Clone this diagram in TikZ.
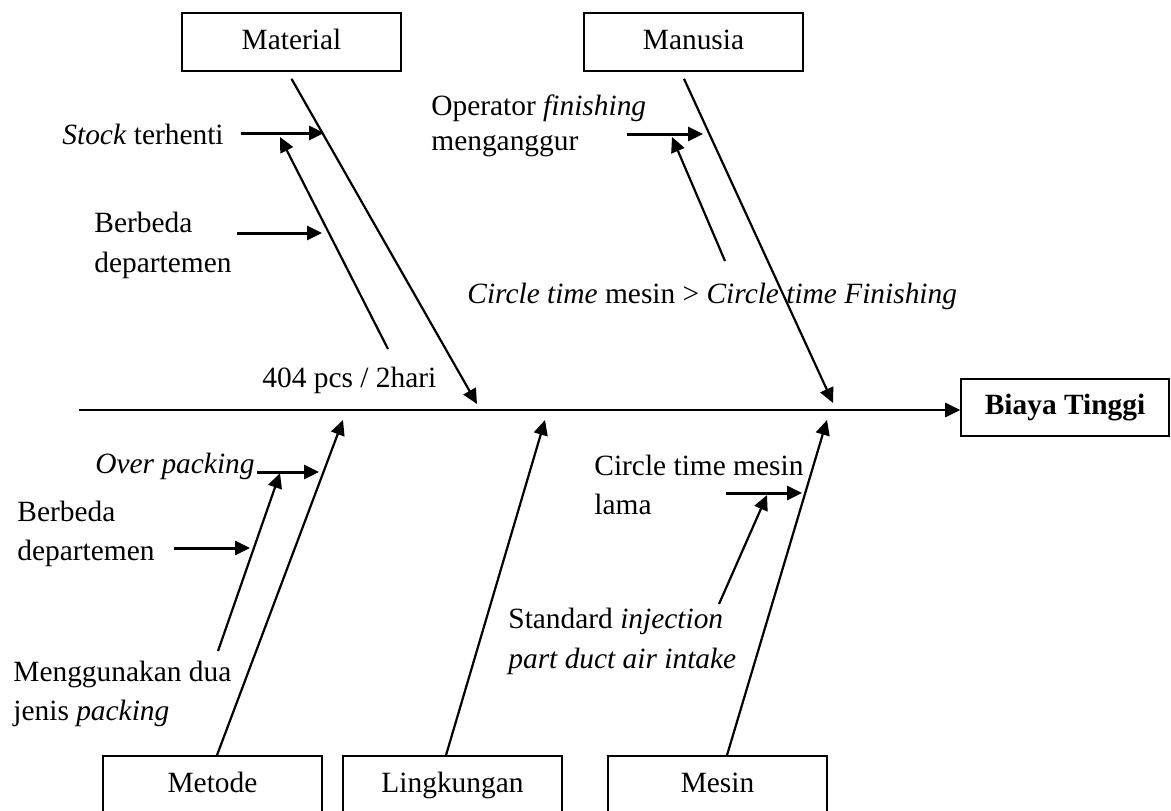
\documentclass[tikz,border=0pt]{standalone}
\usepackage{fontspec}
\setmainfont{Liberation Serif}
\usetikzlibrary{arrows.meta}
\begin{document}
\begin{tikzpicture}[x=0.5pt,y=-0.5pt,>={Triangle[length=7.5pt,width=7pt]},
        font=\fontsize{14.7}{19.5}\selectfont,
        box/.style={draw,line width=0.8pt,minimum width=109.5pt,minimum height=29pt,
            inner sep=0pt,text height=0.7em,text depth=0pt},
        lbl/.style={anchor=base west,inner sep=0pt,align=left},
        bone/.style={->,line width=1.1pt},
        cause/.style={->,line width=1.5pt}]
    \clip (0,0) rectangle (1171,810);
    % kotak
    \node[box] (mat) at (291.5,42) {Material};
    \node[box] (man) at (693.5,42) {Manusia};
    \node[box] (met) at (212.5,785) {Metode};
    \node[box] (lin) at (452.5,785) {Lingkungan};
    \node[box] (mes) at (717.5,785) {Mesin};
    \node[box,minimum width=104pt,minimum height=28.5pt] (biaya) at (1065,407.5) {\textbf{Biaya Tinggi}};
    %===========================================
    \coordinate (ekor) at (79,410);
    \draw[->,line width=1.4pt] (ekor) -- (ekor -| biaya.west);
    \coordinate (matend) at (477,404);
    \coordinate (manend) at (833,403);
    \coordinate (metend) at (343,420);
    \coordinate (linend) at (545,420);
    \coordinate (mesend) at (827,420);
    \draw[bone] ([shift={(0,7)}]mat.south) -- (matend);
    \draw[bone] ([shift={(-9.5,7)}]man.south) -- (manend);
    \draw[bone] ([shift={(4.5,0)}]met.north) -- (metend);
    \draw[bone] ([shift={(-6.5,0)}]lin.north) -- (linend);
    \draw[bone] ([shift={(9.5,0)}]mes.north) -- (mesend);
    %===========================================
    \node[lbl] (stock) at (62,144) {\textit{Stock} terhenti};
    \node[lbl,font=\fontsize{14.7}{20}\selectfont] (beda1) at (94,272) {Berbeda\\departemen};
    \node[lbl] (pcs) at (262,387) {404 pcs / 2hari};
    \node[lbl,font=\fontsize{14.7}{17.5}\selectfont] (opr) at (431,150) {Operator \textit{finishing}\\menganggur};
    \node[lbl] (ct) at (467,303) {\textit{Circle time} mesin > \textit{Circle time Finishing}};
    \node[lbl] (over) at (95,473) {\textit{Over packing}};
    \node[lbl] (beda2) at (17,560) {Berbeda\\departemen};
    \node[lbl] (dua) at (13,720) {Menggunakan dua\\jenis \textit{packing}};
    \node[lbl] (ctm) at (594,514) {Circle time mesin\\lama};
    \node[lbl,font=\fontsize{14.7}{20}\selectfont] (std) at (508,668) {Standard \textit{injection}\\\textit{part duct air intake}};
    %===========================================
    \coordinate (a1) at (241,133); \coordinate (b1) at (324,133);
    \coordinate (a2) at (388,349); \coordinate (b2) at (280,137);
    \coordinate (a3) at (237,233); \coordinate (b3) at (322,233);
    \coordinate (a4) at (627,134); \coordinate (b4) at (703,134);
    \coordinate (a5) at (725,261); \coordinate (b5) at (672,137);
    \coordinate (a6) at (257,472); \coordinate (b6) at (319,472);
    \coordinate (a7) at (218,651); \coordinate (b7) at (280,473);
    \coordinate (a8) at (174,548); \coordinate (b8) at (250,548);
    \coordinate (a9) at (726,493); \coordinate (b9) at (802,493);
    \coordinate (a10) at (719,604); \coordinate (b10) at (767,495);
    \foreach \i in {1,3,4,6,8,9} \draw[cause] (a\i) -- (b\i);
    \foreach \i in {2,5,7,10} \draw[bone] (a\i) -- (b\i);
\end{tikzpicture}
\end{document}
